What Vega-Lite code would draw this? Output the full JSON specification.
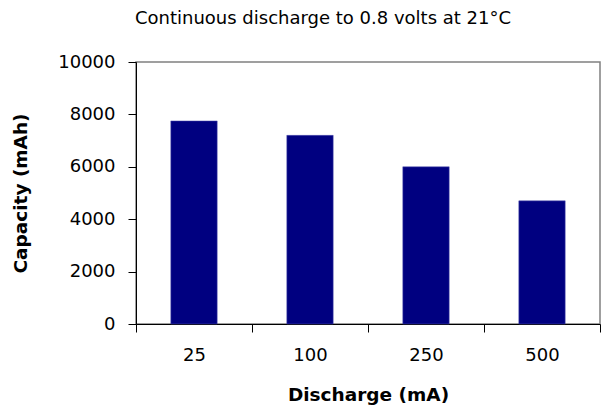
{
  "$schema": "https://vega.github.io/schema/vega-lite/v6.json",
  "width": 464,
  "height": 262,
  "autosize": {"type": "none"},
  "padding": {"left": 136, "top": 62, "right": 5, "bottom": 88},
  "background": "white",
  "title": {
    "text": "Continuous discharge to 0.8 volts at 21°C",
    "font": "DejaVu Sans",
    "fontSize": 18,
    "fontWeight": "normal",
    "color": "black",
    "anchor": "middle",
    "frame": "group",
    "dx": -45,
    "offset": 25
  },
  "data": {
    "values": [
      {"discharge": "25", "capacity": 7750},
      {"discharge": "100", "capacity": 7200},
      {"discharge": "250", "capacity": 6000},
      {"discharge": "500", "capacity": 4700}
    ]
  },
  "config": {
    "view": {"stroke": "#808080", "strokeWidth": 1.5},
    "axis": {
      "labelFont": "DejaVu Sans",
      "titleFont": "DejaVu Sans",
      "labelFontSize": 18,
      "titleFontSize": 18.5,
      "labelColor": "black",
      "titleColor": "black",
      "domainColor": "black",
      "tickColor": "black",
      "grid": false
    }
  },
  "mark": {"type": "bar", "color": "#000080", "stroke": "#5050b0", "strokeWidth": 0.5, "width": {"band": 0.4}},
  "encoding": {
    "x": {
      "field": "discharge",
      "type": "ordinal",
      "sort": null,
      "title": "Discharge (mA)",
      "scale": {"paddingInner": 0, "paddingOuter": 0},
      "axis": {
        "labelAngle": 0,
        "tickBand": "extent",
        "tickSize": 8,
        "labelPadding": 14,
        "titleFontWeight": "bold",
        "titlePadding": 21
      }
    },
    "y": {
      "field": "capacity",
      "type": "quantitative",
      "title": "Capacity (mAh)",
      "scale": {"domain": [0, 10000], "nice": false},
      "axis": {
        "values": [0, 2000, 4000, 6000, 8000, 10000],
        "format": "d",
        "tickSize": 8,
        "labelPadding": 13,
        "titleFontWeight": "bold",
        "titlePadding": 27
      }
    }
  }
}
